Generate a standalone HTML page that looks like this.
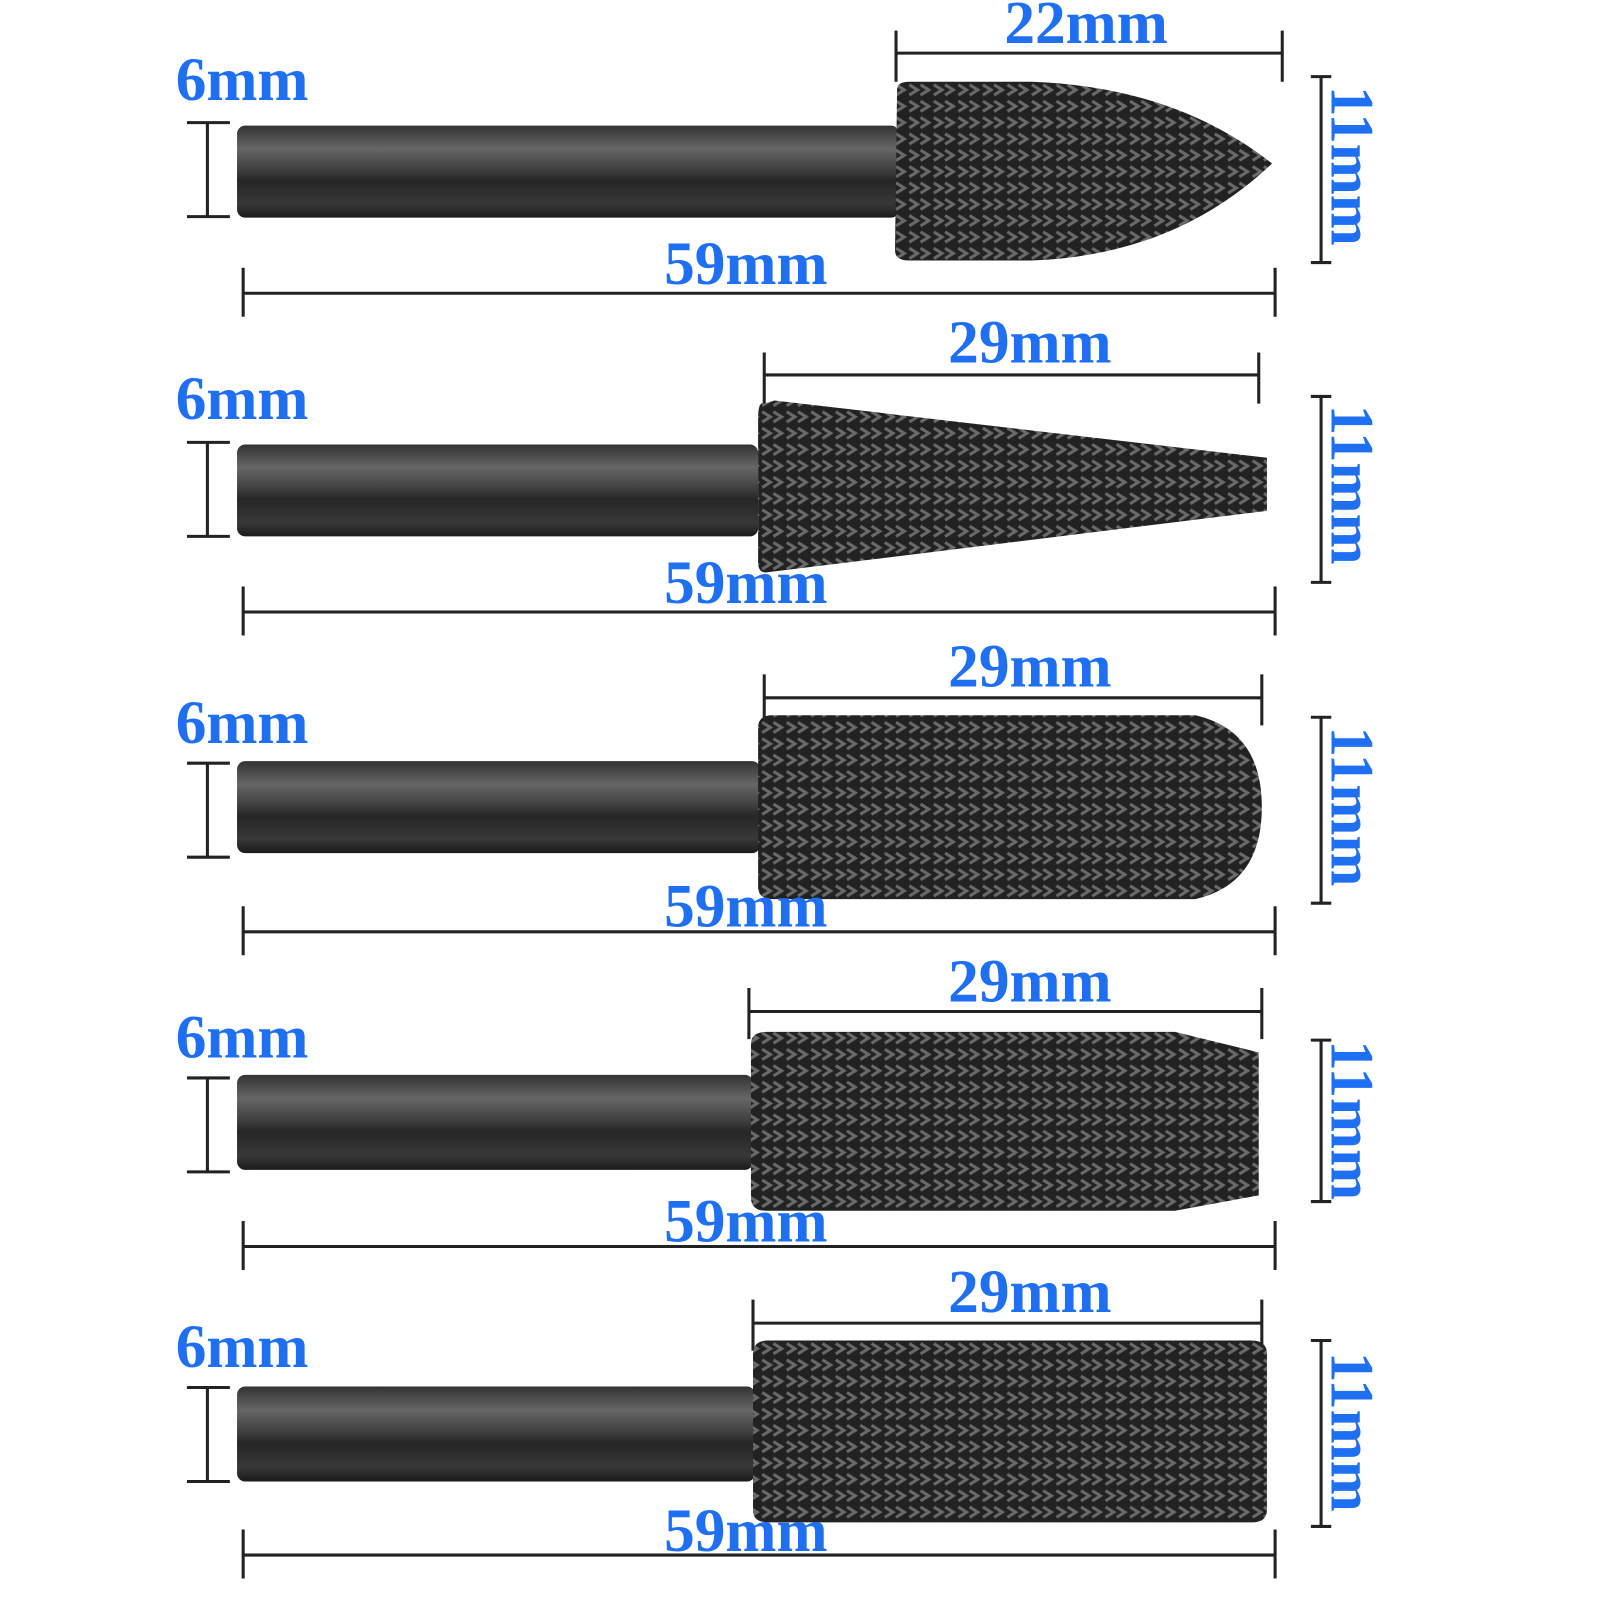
<!DOCTYPE html>
<html><head><meta charset="utf-8"><style>
html,body{margin:0;padding:0;background:#fff;}
svg{display:block}
text{font-family:"Liberation Serif",serif;font-weight:bold;fill:#1f6ff2;font-size:60px}
</style></head><body>
<svg width="1600" height="1600" viewBox="0 0 1566 1566" xmlns="http://www.w3.org/2000/svg">
<defs>
<linearGradient id="sh" x1="0" y1="0" x2="0" y2="1">
<stop offset="0" stop-color="#333"/><stop offset="0.25" stop-color="#666"/><stop offset="0.45" stop-color="#444"/><stop offset="0.6" stop-color="#262626"/><stop offset="0.85" stop-color="#383838"/><stop offset="1" stop-color="#1a1a1a"/>
</linearGradient>
<pattern id="tx" width="24" height="16" patternUnits="userSpaceOnUse">
<rect width="24" height="16" fill="#222"/>
<path d="M2 3 L10 8 L2 13 M13 3 L21 8 L13 13" stroke="#6a6a6a" stroke-width="3" fill="none"/>
</pattern>
</defs>
<g stroke="#222" stroke-width="3" fill="none">
<path d="M203 120V212M183 120H225M183 212H225"/>
<path d="M877 52H1255M877 30V80M1255 30V80"/>
<path d="M238 287H1248M238 262V310M1248 262V310"/>
<path d="M1293 75V257M1283 75H1303M1283 257H1303"/>
<path d="M203 433V525M183 433H225M183 525H225"/>
<path d="M748 367H1232M748 345V395M1232 345V395"/>
<path d="M238 599H1248M238 574V622M1248 574V622"/>
<path d="M1293 388V570M1283 388H1303M1283 570H1303"/>
<path d="M203 747V839M183 747H225M183 839H225"/>
<path d="M748 683H1235M748 660V710M1235 660V710"/>
<path d="M238 912H1248M238 887V935M1248 887V935"/>
<path d="M1293 702V884M1283 702H1303M1283 884H1303"/>
<path d="M203 1055V1147M183 1055H225M183 1147H225"/>
<path d="M733 990H1235M733 967V1017M1235 967V1017"/>
<path d="M238 1220H1248M238 1195V1243M1248 1195V1243"/>
<path d="M1293 1018V1176M1283 1018H1303M1283 1176H1303"/>
<path d="M203 1358V1450M183 1358H225M183 1450H225"/>
<path d="M737 1295H1235M737 1272V1322M1235 1272V1322"/>
<path d="M238 1522H1248M238 1497V1545M1248 1497V1545"/>
<path d="M1293 1312V1494M1283 1312H1303M1283 1494H1303"/>
</g>
<rect x="232" y="123" width="648" height="90" rx="8" fill="url(#sh)"/>
<rect x="232" y="435" width="510" height="90" rx="8" fill="url(#sh)"/>
<rect x="232" y="745" width="512" height="90" rx="8" fill="url(#sh)"/>
<rect x="232" y="1052" width="505" height="93" rx="8" fill="url(#sh)"/>
<rect x="232" y="1357" width="507" height="93" rx="8" fill="url(#sh)"/>
<path d="M878 88 Q878 80 890 80 L1010 80 Q1150 85 1245 160 Q1150 250 1010 255 L890 255 Q876 255 876 245 Z" fill="url(#tx)"/>
<path d="M748 395 Q742 392 742 410 L742 550 Q742 562 752 560 L1240 500 L1240 448 L758 392 Z" fill="url(#tx)"/>
<path d="M742 712 Q742 700 756 700 L1170 700 Q1235 715 1235 790 Q1235 865 1170 880 L756 880 Q742 880 742 868 Z" fill="url(#tx)"/>
<path d="M735 1022 Q735 1010 750 1010 L1150 1010 L1232 1030 L1232 1170 L1150 1185 L750 1185 Q735 1185 735 1172 Z" fill="url(#tx)"/>
<path d="M737 1325 Q737 1312 752 1312 L1225 1312 Q1240 1312 1240 1325 L1240 1478 Q1240 1490 1225 1490 L752 1490 Q737 1490 737 1478 Z" fill="url(#tx)"/>
<text x="172" y="98">6mm</text>
<text x="172" y="410">6mm</text>
<text x="172" y="727">6mm</text>
<text x="172" y="1035">6mm</text>
<text x="172" y="1338">6mm</text>
<text x="1063" y="42" text-anchor="middle">22mm</text>
<text x="1008" y="355" text-anchor="middle">29mm</text>
<text x="1008" y="672" text-anchor="middle">29mm</text>
<text x="1008" y="980" text-anchor="middle">29mm</text>
<text x="1008" y="1284" text-anchor="middle">29mm</text>
<text x="730" y="278" text-anchor="middle">59mm</text>
<text x="730" y="590" text-anchor="middle">59mm</text>
<text x="730" y="907" text-anchor="middle">59mm</text>
<text x="730" y="1215" text-anchor="middle">59mm</text>
<text x="730" y="1518" text-anchor="middle">59mm</text>
<text transform="translate(1303 84) rotate(90)">11mm</text>
<text transform="translate(1303 396) rotate(90)">11mm</text>
<text transform="translate(1303 711) rotate(90)">11mm</text>
<text transform="translate(1303 1018) rotate(90)">11mm</text>
<text transform="translate(1303 1323) rotate(90)">11mm</text>
</svg>
</body></html>
